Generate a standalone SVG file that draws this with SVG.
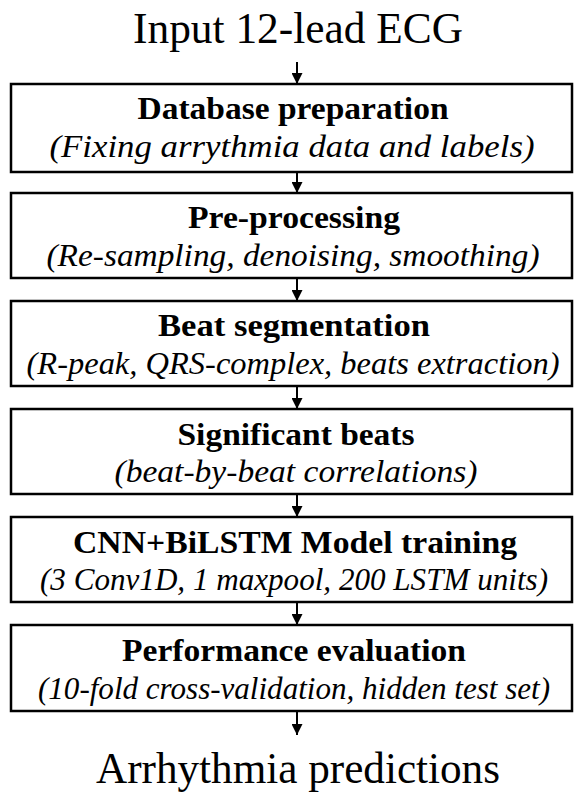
<svg xmlns="http://www.w3.org/2000/svg" width="574" height="793" viewBox="0 0 574 793">
<defs>
<marker id="ah" viewBox="0 0 10 10" refX="10" refY="5" markerWidth="5.5" markerHeight="5.5" markerUnits="strokeWidth" orient="auto">
<path d="M0,0 L10,5 L0,10 z" fill="#000"/>
</marker>
<style>
.box{fill:#fff;stroke:#000;stroke-width:2.5}
.t{fill:#000;text-anchor:middle}
.big{font-size:44px}
.h{font-size:32px;font-weight:bold}
.s{font-size:32px;font-style:italic}
.c{stroke:#000;stroke-width:2;fill:none;marker-end:url(#ah)}
</style>
</defs>
<rect width="574" height="793" fill="#fff"/>
<g id="connectors">
<line class="c" x1="297" y1="62" x2="297" y2="84"/>
<line class="c" x1="297" y1="172" x2="297" y2="193"/>
<line class="c" x1="297" y1="278" x2="297" y2="301"/>
<line class="c" x1="297" y1="386" x2="297" y2="409"/>
<line class="c" x1="297" y1="494" x2="297" y2="517"/>
<line class="c" x1="297" y1="602" x2="297" y2="625"/>
<line class="c" x1="297" y1="711" x2="297" y2="735"/>
</g>
<g font-family="Liberation Serif, serif">
<g id="input"><text class="t big" x="298" y="43" textLength="330" lengthAdjust="spacingAndGlyphs">Input 12-lead ECG</text></g>
<g id="n1">
<rect class="box" x="11" y="84" width="561" height="88"/>
<text class="t h" x="293" y="119" textLength="311" lengthAdjust="spacingAndGlyphs">Database preparation</text>
<text class="t s" x="292" y="157" textLength="485" lengthAdjust="spacingAndGlyphs">(Fixing arrythmia data and labels)</text>
</g>
<g id="n2">
<rect class="box" x="11" y="193" width="561" height="85"/>
<text class="t h" x="294" y="228" textLength="212" lengthAdjust="spacingAndGlyphs">Pre-processing</text>
<text class="t s" x="293" y="266" textLength="493" lengthAdjust="spacingAndGlyphs">(Re-sampling, denoising, smoothing)</text>
</g>
<g id="n3">
<rect class="box" x="11" y="301" width="561" height="85"/>
<text class="t h" x="294" y="336" textLength="272" lengthAdjust="spacingAndGlyphs">Beat segmentation</text>
<text class="t s" x="293" y="374" textLength="533" lengthAdjust="spacingAndGlyphs">(R-peak, QRS-complex, beats extraction)</text>
</g>
<g id="n4">
<rect class="box" x="11" y="409" width="561" height="85"/>
<text class="t h" x="296" y="445" textLength="237" lengthAdjust="spacingAndGlyphs">Significant beats</text>
<text class="t s" x="296" y="482" textLength="363" lengthAdjust="spacingAndGlyphs">(beat-by-beat correlations)</text>
</g>
<g id="n5">
<rect class="box" x="11" y="517" width="561" height="85"/>
<text class="t h" x="295" y="553" textLength="444" lengthAdjust="spacingAndGlyphs">CNN+BiLSTM Model training</text>
<text class="t s" x="294" y="590" textLength="508" lengthAdjust="spacingAndGlyphs">(3 Conv1D, 1 maxpool, 200 LSTM units)</text>
</g>
<g id="n6">
<rect class="box" x="11" y="625" width="561" height="86"/>
<text class="t h" x="294" y="661" textLength="344" lengthAdjust="spacingAndGlyphs">Performance evaluation</text>
<text class="t s" x="294" y="699" textLength="512" lengthAdjust="spacingAndGlyphs">(10-fold cross-validation, hidden test set)</text>
</g>
<g id="output"><text class="t big" x="298" y="783" textLength="404" lengthAdjust="spacingAndGlyphs">Arrhythmia predictions</text></g>
</g>
</svg>
